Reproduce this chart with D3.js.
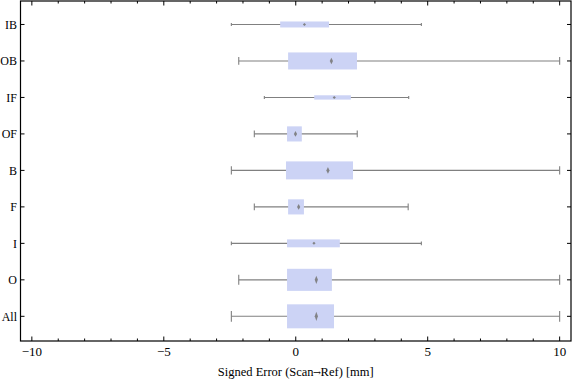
<!DOCTYPE html>
<html><head><meta charset="utf-8">
<script src="https://cdn.jsdelivr.net/npm/d3@7"></script>
<style>html,body{margin:0;padding:0;background:#fff}svg{display:block}</style>
</head><body>
<svg id="c" width="576" height="381"></svg>
<script>
// Data (top to bottom)
const categories = ["IB","OB","IF","OF","B","F","I","O","All"];
const whiskerLow  = [-2.44,-2.16,-1.19,-1.57,-2.44,-1.57,-2.44,-2.16,-2.44];
const q1          = [-0.59,-0.29, 0.70,-0.33,-0.37,-0.29,-0.33,-0.33,-0.33];
const medians     = [ 0.33, 1.35, 1.46,-0.01, 1.22, 0.11, 0.69, 0.78, 0.78];
const q3          = [ 1.26, 2.32, 2.09, 0.23, 2.17, 0.31, 1.67, 1.37, 1.45];
const whiskerHigh = [ 4.76,10.00, 4.28, 2.33,10.00, 4.26, 4.76,10.00,10.00];
const weights     = [ 0.25, 0.71, 0.18, 0.63, 0.75, 0.63, 0.33, 0.92, 1.00];
const xTicks = [-10,-5,0,5,10];
const xLabelParts = ["Signed Error (Scan", "\u2192", "Ref) [mm]"];

const svg = d3.select("#c");
const L=20.5, R=571, T=1, B=341;
const x = d3.scaleLinear().domain([-10.43,10.43]).range([L,R]);
const y = d3.scalePoint().domain(categories).range([T-0.6,B-0.6]).padding(0.66);
const maxH = 24;
const font = "'Liberation Serif','Times New Roman',serif";

const rows = categories.map((c,i)=>({c,lo:whiskerLow[i],q1:q1[i],med:medians[i],q3:q3[i],hi:whiskerHigh[i],w:weights[i]}));
const g = svg.append("g");
// whiskers
g.selectAll("line.wh").data(rows).join("line")
  .attr("x1",d=>x(d.lo)).attr("x2",d=>x(d.hi))
  .attr("y1",d=>y(d.c)).attr("y2",d=>y(d.c))
  .attr("stroke","#808080").attr("stroke-width",1.1);
// caps
["lo","hi"].forEach(k=>{
  g.selectAll("line.cap"+k).data(rows).join("line")
    .attr("x1",d=>x(d[k])).attr("x2",d=>x(d[k]))
    .attr("y1",d=>y(d.c)-Math.max(3,0.45*d.w*maxH)/2)
    .attr("y2",d=>y(d.c)+Math.max(3,0.45*d.w*maxH)/2)
    .attr("stroke","#808080").attr("stroke-width",1.1);
});
// boxes
g.selectAll("rect.box").data(rows).join("rect")
  .attr("x",d=>x(d.q1)).attr("width",d=>x(d.q3)-x(d.q1))
  .attr("y",d=>y(d.c)-d.w*maxH/2).attr("height",d=>d.w*maxH)
  .attr("fill","#ccd3f5");
// median diamonds
g.selectAll("path.med").data(rows).join("path")
  .attr("d",d=>{
    const cx=x(d.med), cy=y(d.c), h=Math.max(3,0.38*d.w*maxH)/2, w=1.6;
    return `M${cx},${cy-h}L${cx+w},${cy}L${cx},${cy+h}L${cx-w},${cy}Z`;
  })
  .attr("fill","#7a7a7a").attr("opacity",0.9);

// frame
svg.append("rect").attr("x",L).attr("y",T).attr("width",R-L).attr("height",B-T)
  .attr("fill","none").attr("stroke","#000").attr("stroke-width",1.2);

// x ticks
const minor = d3.range(-10,11,1);
minor.forEach(v=>{
  const major = v%5===0;
  const len = major?4.5:2.5;
  svg.append("line").attr("x1",x(v)).attr("x2",x(v)).attr("y1",B).attr("y2",B-len).attr("stroke","#000").attr("stroke-width",1);
  svg.append("line").attr("x1",x(v)).attr("x2",x(v)).attr("y1",T).attr("y2",T+len).attr("stroke","#000").attr("stroke-width",1);
});
svg.selectAll("text.xt").data(xTicks).join("text")
  .attr("x",d=>x(d)).attr("y",B+14.5)
  .attr("text-anchor","middle").attr("font-family",font).attr("font-size",13).attr("fill","#000")
  .text(d=>d<0?"\u2212"+Math.abs(d):String(d));
// y ticks
categories.forEach(c=>{
  svg.append("line").attr("x1",L).attr("x2",L+4).attr("y1",y(c)).attr("y2",y(c)).attr("stroke","#000").attr("stroke-width",1);
  svg.append("line").attr("x1",R).attr("x2",R-4).attr("y1",y(c)).attr("y2",y(c)).attr("stroke","#000").attr("stroke-width",1);
});
svg.selectAll("text.yt").data(categories).join("text")
  .attr("x",17).attr("y",d=>y(d)+4.2)
  .attr("text-anchor","end").attr("font-family",font).attr("font-size",12).attr("fill","#000")
  .text(d=>d);
// x label
const xl = svg.append("text").attr("x",(L+R)/2).attr("y",376)
  .attr("text-anchor","middle").attr("font-family",font).attr("font-size",12.5).attr("fill","#000");
xl.append("tspan").text(xLabelParts[0]);
xl.append("tspan").attr("font-family","'DejaVu Serif',serif").attr("font-size",9.5).attr("dx",-0.5).text(xLabelParts[1]);
xl.append("tspan").attr("dx",-0.5).text(xLabelParts[2]);
</script>
</body></html>
